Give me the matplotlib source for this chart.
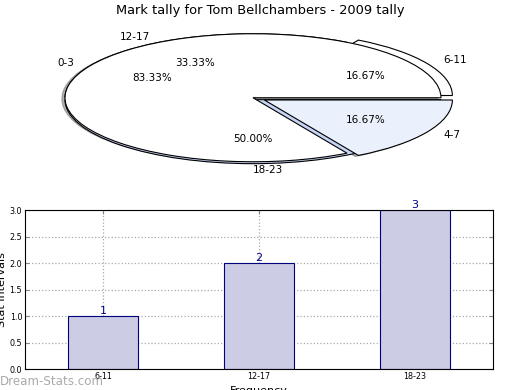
import matplotlib
matplotlib.use("Agg")
import matplotlib.pyplot as plt

# pie data (two overlaid pies, as in the original)
pie_a_labels = ["6-11", "12-17", "18-23"]
pie_a_values = [1, 2, 3]
pie_b_labels = ["0-3", "4-7"]
pie_b_values = [5, 1]

# bar data
bar_labels = ["6-11", "12-17", "18-23"]
bar_values = [1, 2, 3]

fig = plt.figure(figsize=(5.2, 3.9), dpi=100)

# --- top: squashed pie ---
ax1 = fig.add_axes([0.0165, 0.536, 0.940, 0.4267])
wa, ta, pa = ax1.pie(pie_a_values, labels=pie_a_labels, autopct="%.2f%%",
                     explode=[0.07, 0, 0.03],
                     colors=["white", "white", "#c6d5f6"],
                     wedgeprops=dict(edgecolor="black", linewidth=0.8),
                     labeldistance=1.1, pctdistance=0.62)
wb, tb, pb = ax1.pie(pie_b_values, labels=pie_b_labels, autopct="%.2f%%",
                     explode=[0, 0.07],
                     shadow=dict(ox=-0.012, oy=-0.012, shade=0.6),
                     colors=["white", "#eaf1fd"],
                     wedgeprops=dict(edgecolor="black", linewidth=0.8),
                     labeldistance=1.1, pctdistance=0.62)
for t in ta + tb + pa + pb:
    t.set_fontsize(7.5)
ax1.set_aspect("auto")
ax1.set_xlim(-1.3, 1.3)
ax1.set_ylim(-1.3, 1.3)
ax1.axis("off")

fig.text(0.5, 0.974, "Mark tally for Tom Bellchambers - 2009 tally",
         ha="center", va="center", fontsize=9.4)

# --- bottom: bar chart ---
ax2 = fig.add_axes([0.048, 0.0538, 0.9, 0.4077])
x = range(len(bar_values))
ax2.bar(x, bar_values, width=0.45, color="#ccccE4", edgecolor="#000080",
        linewidth=0.8, zorder=2)
for i, v in zip(x, bar_values):
    ax2.text(i, v, str(v), ha="center", va="bottom", color="#000080", fontsize=8)
ax2.set_xlim(-0.5, 2.5)
ax2.set_ylim(0, 3)
ax2.set_xticks(list(x))
ax2.set_xticklabels(bar_labels)
ax2.set_yticks([0, 0.5, 1.0, 1.5, 2.0, 2.5, 3.0])
ax2.tick_params(labelsize=5.8, direction="in", top=True, right=True,
                length=3, color="#888888", pad=2)
ax2.grid(True, linestyle=":", color="#aaaaaa", linewidth=0.9, zorder=0)
ax2.set_axisbelow(True)
ax2.set_ylabel("Stat Intervals", fontsize=8, labelpad=1.5)
ax2.set_xlabel("Frequency", fontsize=8, labelpad=4)

fig.text(0.0, 0.023, "Dream-Stats.com", color="#aaaaaa", fontsize=8.6,
         ha="left", va="center")

fig.savefig("out.png", dpi=100)
